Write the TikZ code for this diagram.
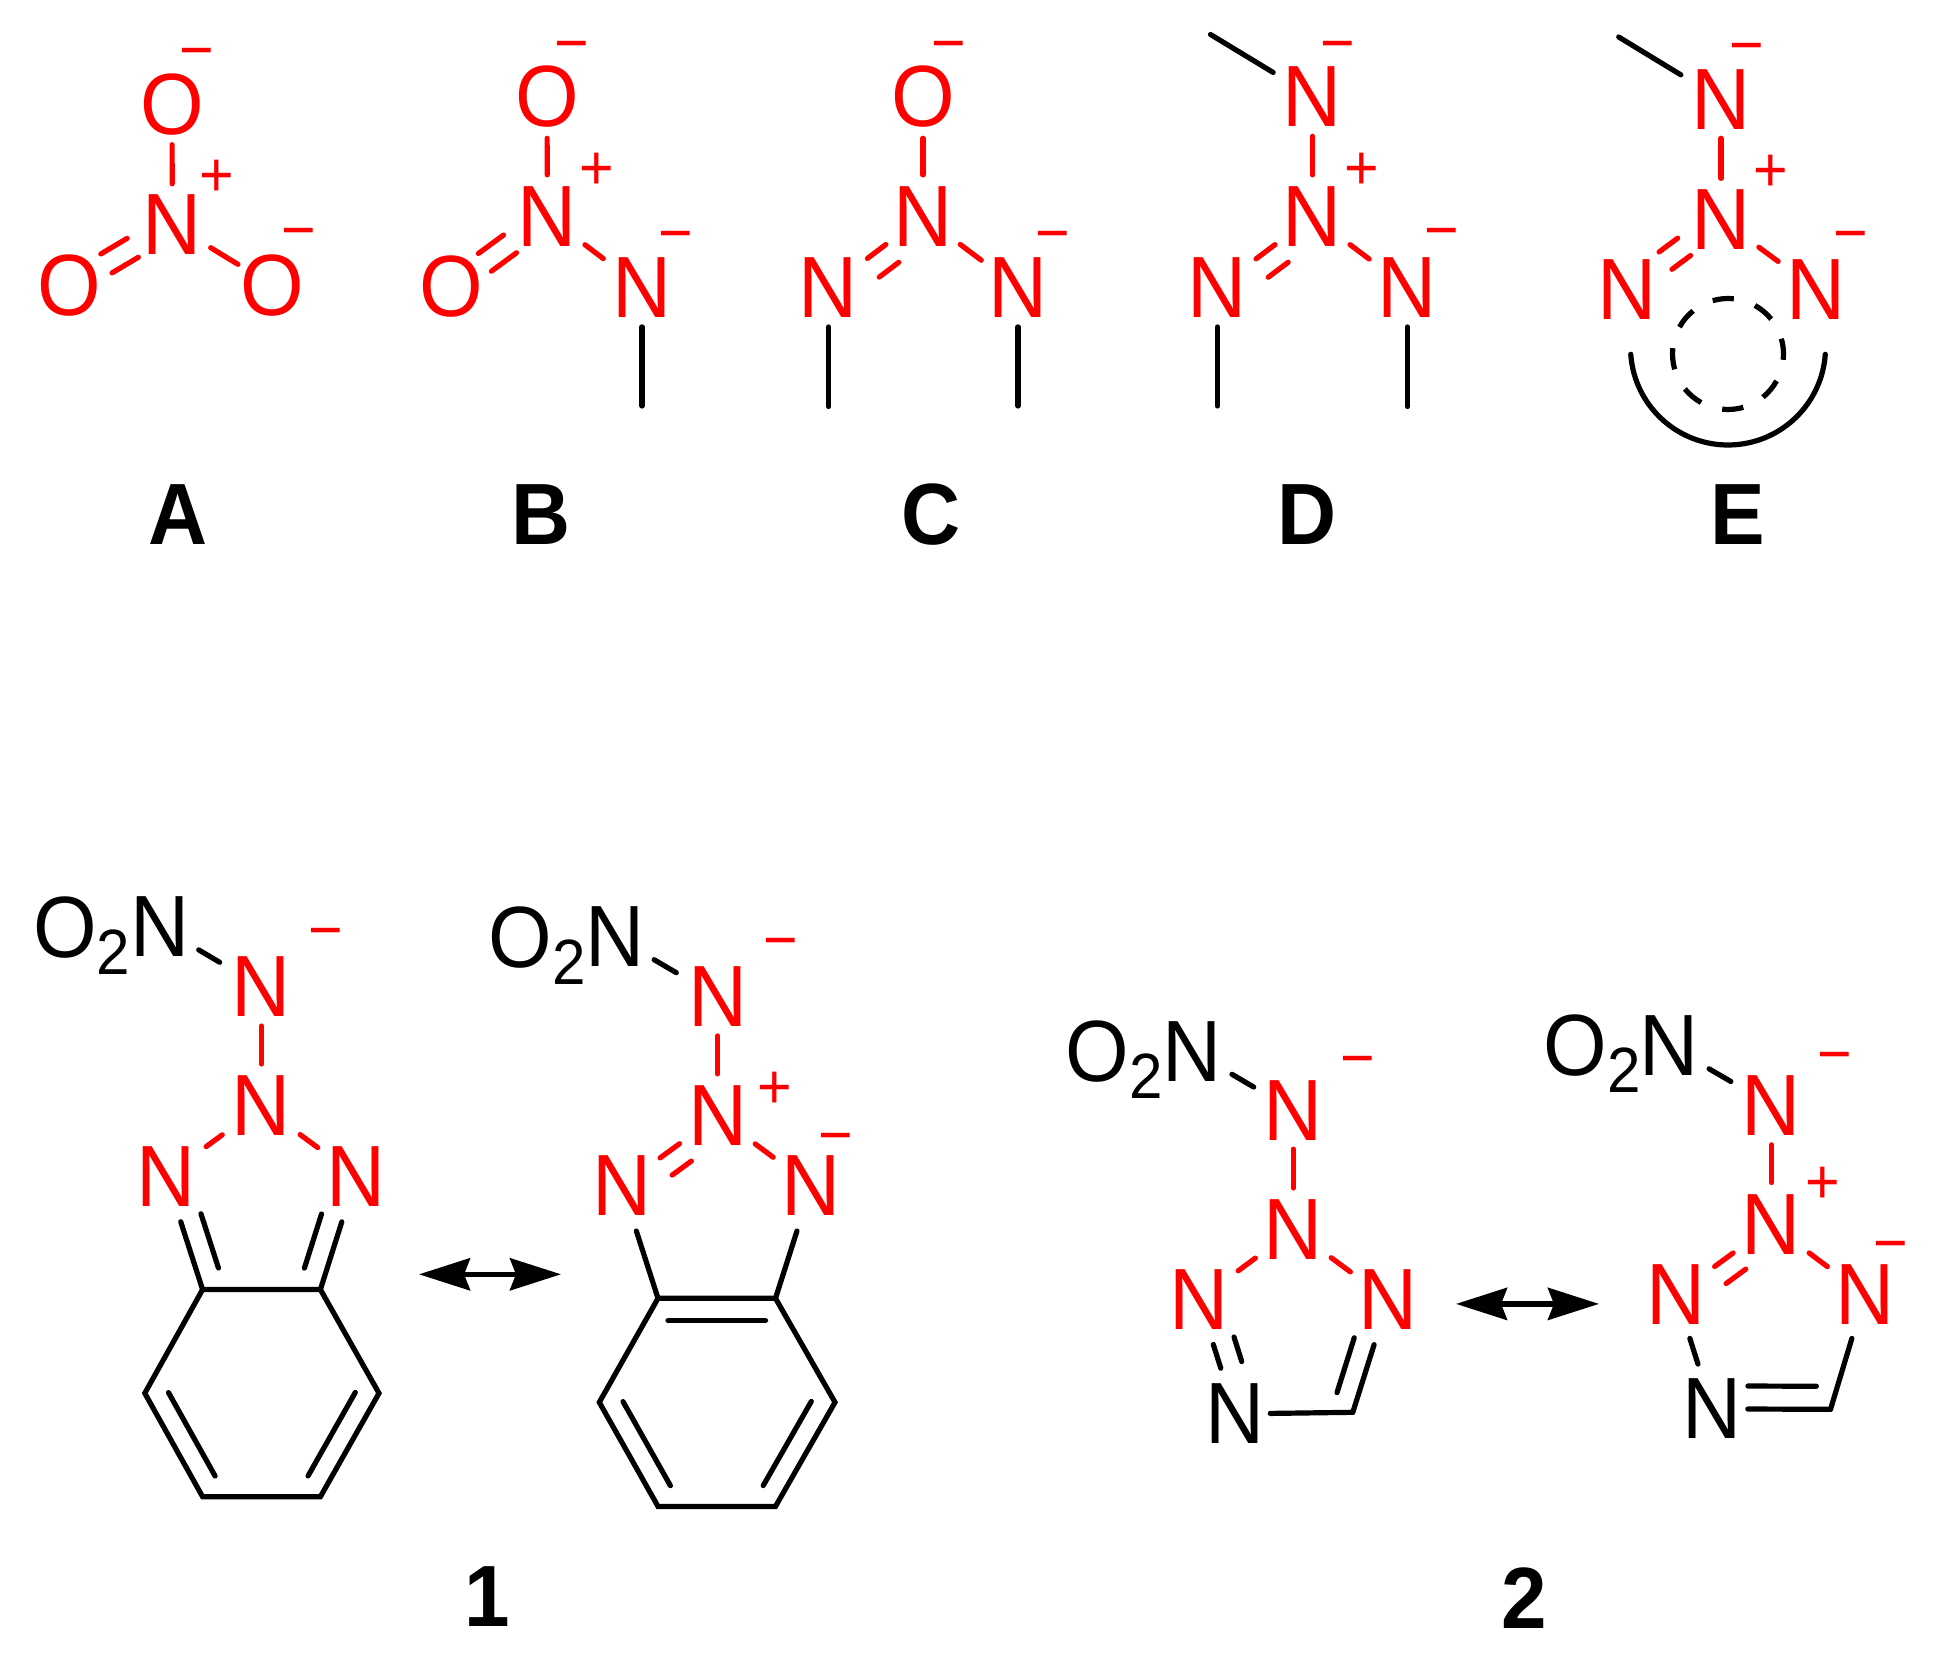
\documentclass[tikz,border=0pt]{standalone}
\usepackage{fontspec}
\setmainfont[FakeStretch=0.94]{Liberation Sans}
\usetikzlibrary{calc,arrows.meta}
\newcommand\bnd[6][rbond]{\draw[#1] ($(#2.center)!#4pt!(#3.center)!#6pt!90:(#3.center)$) -- ($(#3.center)!#5pt!(#2.center)!#6pt!-90:(#2.center)$);}
\newcommand\otwo{O\raisebox{-17pt}{\fontsize{64}{64}\selectfont 2}}
\tikzset{
  atomt/.style={inner sep=0pt,outer sep=0pt,font=\fontsize{87}{87}\selectfont},
  ra/.style={atomt,text=rd},
  ka/.style={atomt,text=black},
  otwot/.style={atomt,text=black,anchor=base west},
  chg/.style={inner sep=0pt,outer sep=0pt,text=rd,anchor=base,yshift=-21.5pt,font=\fontsize{63}{63}\selectfont},
  lab/.style={inner sep=0pt,outer sep=0pt,text=black,font=\fontsize{87}{87}\selectfont\bfseries},
  rbond/.style={draw=rd,line width=5.2pt,line cap=round},
  kb/.style={draw=black,line width=5.2pt,line cap=round,line join=miter},
  karc/.style={draw=black,line width=5.2pt,line cap=butt},
  dbl/.style={draw=black,line width=5.5pt,{Stealth[length=51pt,width=32pt,inset=6pt]}-{Stealth[length=51pt,width=32pt,inset=6pt]}}
}
\definecolor{rd}{RGB}{255,0,0}
\begin{document}
\begin{tikzpicture}[x=1pt,y=-1pt]
\useasboundingbox (0,0) rectangle (1935,1661);
% ---------- A
\node[ra] (aOt) at (172,104.2) {O};
\node[ra] (aN) at (172.3,224.3) {N};
\node[ra] (aOl) at (69.5,285.4) {O};
\node[ra] (aOr) at (272.5,285.4) {O};
\node[chg] (am1) at (197,50) {−};
\node[chg] (ap) at (217,175.2) {+};
\node[chg] (am2) at (299,230.3) {−};
\bnd{aN}{aOt}{40.5}{40.5}{0}
\bnd{aN}{aOl}{46}{43}{11}
\bnd{aN}{aOl}{46}{43}{-11}
\bnd{aN}{aOr}{45}{40.5}{0}
\node[lab] (lA) at (178,514.4) {A};
% ---------- B
\node[ra] (bOt) at (546.9,96.8) {O};
\node[ra] (bN) at (547.5,216.4) {N};
\node[ra] (bOl) at (451.5,286.9) {O};
\node[ra] (bNr) at (642,287.9) {N};
\coordinate (bMe) at (642,406);
\node[chg] (bm1) at (572,43.4) {−};
\node[chg] (bp) at (597,167.7) {+};
\node[chg] (bm2) at (676,233.3) {−};
\bnd{bN}{bOt}{41.5}{41.5}{0}
\bnd{bN}{bOl}{46.5}{41.5}{11}
\bnd{bN}{bOl}{46.5}{41.5}{-11}
\bnd{bN}{bNr}{47}{48.5}{0}
\bnd[kb]{bNr}{bMe}{39}{0}{0}
\node[lab] (lB) at (541.5,514.4) {B};
% ---------- C
\node[ra] (cOt) at (923,96.8) {O};
\node[ra] (cN) at (923,216.4) {N};
\node[ra] (cNl) at (828.5,287.9) {N};
\node[ra] (cNr) at (1018,287.9) {N};
\coordinate (cMl) at (828.5,406.5);
\coordinate (cMr) at (1018,406);
\node[chg] (cm1) at (949,43.4) {−};
\node[chg] (cm2) at (1052.7,233.3) {−};
\bnd{cN}{cOt}{41.5}{41.5}{0}
\bnd{cN}{cNl}{46.6}{48.8}{0}
\bnd{cN}{cNl}{47}{47}{22}
\bnd{cN}{cNr}{46.6}{46}{0}
\bnd[kb]{cNl}{cMl}{39}{0}{0}
\bnd[kb]{cNr}{cMr}{39}{0}{0}
\node[lab] (lC) at (931,514.4) {C};
% ---------- D
\node[ra] (dNt) at (1312.5,96.3) {N};
\node[ra] (dN) at (1312.5,216.4) {N};
\node[ra] (dNl) at (1217.5,287.9) {N};
\node[ra] (dNr) at (1407.5,287.9) {N};
\coordinate (dMt) at (1210.5,34.5);
\coordinate (dMl) at (1217.5,406);
\coordinate (dMr) at (1407.5,406.5);
\node[chg] (dm1) at (1338,43.4) {−};
\node[chg] (dp) at (1361.6,167.7) {+};
\node[chg] (dm2) at (1442,230.3) {−};
\bnd{dN}{dNt}{41.5}{40}{0}
\bnd{dN}{dNl}{46.9}{48.3}{0}
\bnd{dN}{dNl}{47}{47}{22}
\bnd{dN}{dNr}{47}{48}{0}
\bnd[kb]{dNt}{dMt}{46}{0}{0}
\bnd[kb]{dNl}{dMl}{39}{0}{0}
\bnd[kb]{dNr}{dMr}{39}{0}{0}
\node[lab] (lD) at (1307,514.4) {D};
% ---------- E
\node[ra] (eNt) at (1721,99.3) {N};
\node[ra] (eN) at (1721,219.4) {N};
\node[ra] (eNl) at (1627,289.3) {N};
\node[ra] (eNr) at (1816,289.3) {N};
\coordinate (eMt) at (1618.7,37);
\coordinate (eA) at (1728,347.5);
\coordinate (eB) at (1728,354);
\node[chg] (em1) at (1747,45.2) {−};
\node[chg] (ep) at (1770.5,170.3) {+};
\node[chg] (em2) at (1851,233.3) {−};
\bnd{eN}{eNt}{41}{39}{0}
\bnd{eN}{eNl}{46}{48}{10.8}
\bnd{eN}{eNl}{46}{48}{-10.8}
\bnd{eN}{eNr}{47}{47}{0}
\bnd[kb]{eNt}{eMt}{47}{0}{0}
\draw[kb] (eA) ++(184:97.5pt) arc[start angle=184,end angle=356,radius=97.5pt];
\foreach \a in {95,50,5,-40,-85,-130,-175,-220}
  \draw[karc] (eB) ++({\a-11}:55.5pt) arc[start angle=\a-11,end angle=\a+11,radius=55.5pt];
\node[lab] (lE) at (1738,514.4) {E};
% ---------- 1 left
\node[otwot] (pO) at (33,957) {\otwo};
\node[ka] (pNb) at (160,927) {N};
\node[ra] (pNm) at (261.5,987) {N};
\node[ra] (pN) at (261.5,1106) {N};
\node[ra] (pNl) at (166,1176.1) {N};
\node[ra] (pNr) at (356.3,1176.1) {N};
\node[chg] (pm) at (326,929.9) {−};
\coordinate (pa) at (202.6,1289.5);
\coordinate (pb) at (144.8,1393.2);
\coordinate (pc) at (202.6,1496.7);
\coordinate (pd) at (320.4,1496.7);
\coordinate (pe) at (379,1393.2);
\coordinate (pf) at (320.4,1289.5);
\bnd[kb]{pNb}{pNm}{45}{48.6}{0}
\bnd{pN}{pNm}{42}{39}{0}
\bnd{pN}{pNl}{48.7}{49.8}{0}
\bnd{pN}{pNr}{48}{48}{0}
\draw[kb] (pa) -- (pb) -- (pc) -- (pd) -- (pe) -- (pf) -- cycle;
\bnd[kb]{pb}{pc}{11}{12}{21}
\bnd[kb]{pd}{pe}{12}{11}{21}
\bnd[kb]{pNl}{pa}{48}{0}{0}
\bnd[kb]{pNl}{pa}{46.6}{15.6}{21.7}
\bnd[kb]{pNr}{pf}{48}{0}{0}
\bnd[kb]{pNr}{pf}{46.6}{15.6}{-21.7}
% ---------- 1 right
\node[otwot] (qO) at (488.5,967) {\otwo};
\node[ka] (qNb) at (615.3,937) {N};
\node[ra] (qNm) at (717.7,996.9) {N};
\node[ra] (qN) at (717.7,1115.9) {N};
\node[ra] (qNl) at (621.8,1185.8) {N};
\node[ra] (qNr) at (811.4,1185.8) {N};
\node[chg] (qm1) at (780.9,940.1) {−};
\node[chg] (qp) at (774.4,1086.8) {+};
\node[chg] (qm2) at (836.1,1135) {−};
\coordinate (qa) at (658,1298.3);
\coordinate (qb) at (599.3,1402.3);
\coordinate (qc) at (658,1506.4);
\coordinate (qd) at (775.5,1506.4);
\coordinate (qe) at (835,1402.3);
\coordinate (qf) at (775.5,1298.3);
\bnd[kb]{qNb}{qNm}{45}{48}{0}
\bnd{qN}{qNm}{42}{39}{0}
\bnd{qN}{qNl}{47.2}{47.4}{0}
\bnd{qN}{qNl}{47.9}{47}{21}
\bnd{qN}{qNr}{46.8}{47.7}{0}
\draw[kb] (qa) -- (qb) -- (qc) -- (qd) -- (qe) -- (qf) -- cycle;
\bnd[kb]{qb}{qc}{11}{12}{21}
\bnd[kb]{qd}{qe}{12}{11}{21}
\bnd[kb]{qa}{qf}{10}{10}{-22.4}
\bnd[kb]{qNl}{qa}{47.5}{0}{0}
\bnd[kb]{qNr}{qf}{47.5}{0}{0}
% arrow 1
\coordinate (u1) at (419,1274.3);
\coordinate (u2) at (561,1274.3);
\draw[dbl] (u1) -- (u2);
\node[lab] (l1) at (487,1596.7) {1};
% ---------- 2 left
\node[otwot] (rO) at (1065.6,1081) {\otwo};
\node[ka] (rNb) at (1192.4,1051.1) {N};
\node[ra] (rNm) at (1293.4,1110.3) {N};
\node[ra] (rN) at (1293.4,1229.8) {N};
\node[ra] (rNl) at (1199.2,1299.8) {N};
\node[ra] (rNr) at (1388.2,1299.8) {N};
\node[ka] (rNd) at (1235.2,1413.9) {N};
\node[chg] (rm) at (1357.4,1058) {−};
\coordinate (rC) at (1352.8,1412.3);
\bnd[kb]{rNb}{rNm}{45.8}{46}{0}
\bnd{rN}{rNm}{41.8}{38.8}{0}
\bnd{rN}{rNl}{47.4}{48.6}{0}
\bnd{rN}{rNr}{47}{47}{0}
\bnd[kb]{rNl}{rNd}{46.9}{47.9}{0}
\bnd[kb]{rNl}{rNd}{45.9}{48}{22}
\bnd[kb]{rNr}{rC}{47}{0}{0}
\bnd[kb]{rNr}{rC}{46.4}{14}{-21}
\bnd[kb]{rNd}{rC}{35}{0}{0}
% arrow 2
\coordinate (v1) at (1456,1303.9);
\coordinate (v2) at (1599,1303.9);
\draw[dbl] (v1) -- (v2);
\node[lab] (l2) at (1524.3,1597.7) {2};
% ---------- 2 right
\node[otwot] (sO) at (1543.4,1075.7) {\otwo};
\node[ka] (sNb) at (1669.3,1045.7) {N};
\node[ra] (sNm) at (1771.5,1105.1) {N};
\node[ra] (sN) at (1771.5,1224.8) {N};
\node[ra] (sNl) at (1676.1,1294.8) {N};
\node[ra] (sNr) at (1865,1294.8) {N};
\node[ka] (sNd) at (1712.1,1408.9) {N};
\node[chg] (sm1) at (1834.8,1053.7) {−};
\node[chg] (sp) at (1822.5,1181.9) {+};
\node[chg] (sm2) at (1890.5,1243.2) {−};
\coordinate (sC) at (1830.5,1409.3);
\bnd[kb]{sNb}{sNm}{46}{47}{0}
\bnd{sN}{sNm}{42.3}{39.7}{0}
\bnd{sN}{sNl}{47.6}{47.8}{0}
\bnd{sN}{sNl}{47}{47}{20.5}
\bnd{sN}{sNr}{47}{47}{0}
\bnd[kb]{sNl}{sNd}{45.7}{47}{0}
\bnd[kb]{sNr}{sC}{45.6}{0}{0}
\bnd[kb]{sNd}{sC}{35.7}{0}{0}
\bnd[kb]{sNd}{sC}{35.7}{14.2}{23}
\end{tikzpicture}
\end{document}
